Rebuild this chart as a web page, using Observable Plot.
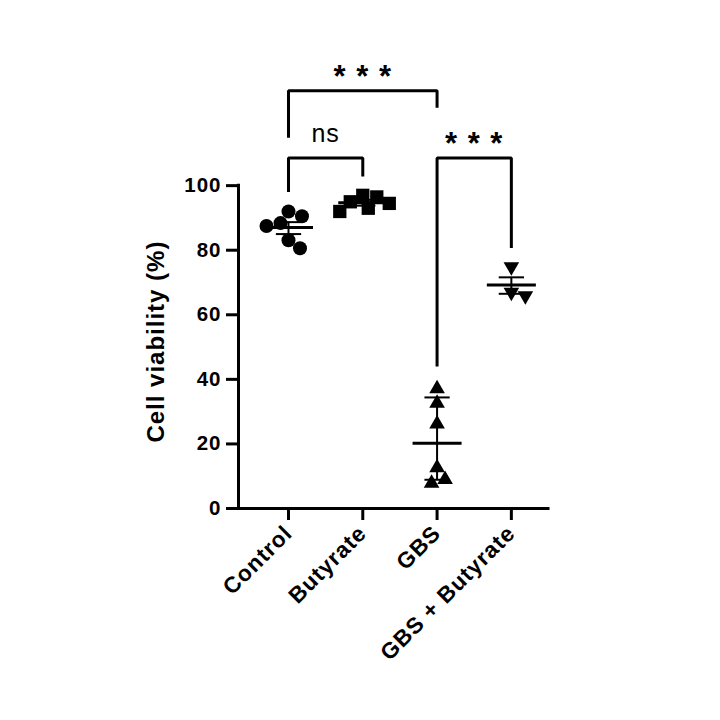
<!DOCTYPE html>
<html><head><meta charset="utf-8">
<script src="https://cdn.jsdelivr.net/npm/d3@7"></script>
<script src="https://cdn.jsdelivr.net/npm/@observablehq/plot@0.6"></script>
<style>
body{margin:0;background:#fff;}
#chart svg{font-family:"Liberation Sans",Arial,sans-serif;background:#fff;}
#chart svg text{letter-spacing:1px;}
</style></head><body><div id="chart"></div>
<script>
// ---- data ----
const categories = ["Control", "Butyrate", "GBS", "GBS + Butyrate"];
const controlValues = [88.4, 90.5, 92.0, 87.5, 83.1, 80.6];
const butyrateValues = [94.5, 95.0, 96.5, 97.0, 92.0, 93.0];
const gbsValues = [37.1, 32.6, 26.2, 12.6, 7.8, 9.0];
const gbsButyrateValues = [74.9, 65.9, 67.0];
const means = [87.0, 94.7, 20.2, 69.2];
const errLow = [85.0, 93.8, 8.9, 66.5];
const errHigh = [88.7, 95.6, 34.4, 71.6];
const yTicks = [0, 20, 40, 60, 80, 100];
const yLabel = "Cell viability (%)";
// significance comparisons (group indices, bracket heights in % units)
const compFrom = [0, 0, 2];
const compTo = [2, 1, 3];
const compTop = [129.4, 108.6, 108.6];
const compLegFrom = [114.8, 98.0, 44.0];
const compLegTo = [124.1, 102.8, 80.7];
const compLabel = ["***", "ns", "***"];

// ---- layout ----
const W = 720, H = 720;
const mL = 238, mR = 172, mT = 56, mB = 212;
const xMin = -0.673, xMax = 3.5, yMax = 140;
const pxX = (W - mL - mR) / (xMax - xMin);
const pxY = (H - mT - mB) / yMax;

function swarm(values, gi, diam) {
  const order = values.map((v, k) => k).sort((a, b) => values[b] - values[a]);
  const placed = [];
  const out = new Array(values.length);
  for (const k of order) {
    const py = values[k] * pxY;
    let best = null;
    for (let s = 0; s < 200 && best === null; s += 0.5) {
      for (const c of (s === 0 ? [0] : [s, -s])) {
        if (placed.every(p => (p.x - c) ** 2 + (p.y - py) ** 2 >= diam * diam)) { best = c; break; }
      }
    }
    placed.push({x: best, y: py});
    out[k] = best;
  }
  return values.map((v, k) => ({g: gi, x: gi + out[k] / pxX, y: v}));
}

const series = [controlValues, butyrateValues, gbsValues, gbsButyrateValues];
const pts = series.map((vals, gi) => swarm(vals, gi, 14));

const groups = categories.map((c, i) => ({i, mean: means[i], lo: errLow[i], hi: errHigh[i]}));

const bracketPts = [];
const bracketLabels = [];
compFrom.forEach((a, k) => {
  const b = compTo[k];
  bracketPts.push({k, x: a, y: compLegFrom[k]}, {k, x: a, y: compTop[k]}, {k, x: b, y: compTop[k]}, {k, x: b, y: compLegTo[k]});
  bracketLabels.push({x: (a + b) / 2, y: compTop[k], label: compLabel[k]});
});

const triangleDown = {
  draw(context, size) {
    const y = -Math.sqrt(size / (Math.sqrt(3) * 3));
    context.moveTo(0, -y * 2);
    context.lineTo(-Math.sqrt(3) * y, y);
    context.lineTo(Math.sqrt(3) * y, y);
    context.closePath();
  }
};

const chart = Plot.plot({
  width: W, height: H,
  marginLeft: mL, marginRight: mR, marginTop: mT, marginBottom: mB,
  x: {type: "linear", domain: [xMin, xMax]},
  y: {type: "linear", domain: [0, yMax]},
  marks: [
    Plot.axisY({ticks: yTicks, tickSize: 12, tickPadding: 5, strokeWidth: 3, fontSize: 20.5, fontWeight: "bold", label: null}),
    Plot.axisX({ticks: [0, 1, 2, 3], tickFormat: i => categories[i], tickRotate: -45, tickSize: 12, tickPadding: 9, strokeWidth: 3, fontSize: 22.5, fontWeight: "bold", label: null}),
    Plot.ruleX([xMin], {x: d => d, y1: 0, y2: 100, strokeWidth: 3, strokeLinecap: "square"}),
    Plot.ruleY([0], {y: d => d, x1: xMin, x2: xMax, strokeWidth: 3, strokeLinecap: "square"}),
    Plot.text([yLabel], {x: () => xMin, y: () => 51.7, dx: -82, rotate: -90, text: d => d, fontSize: 24, fontWeight: "bold", fill: "black"}),
    // error bars
    Plot.ruleX(groups, {x: "i", y1: "lo", y2: "hi", strokeWidth: 2}),
    Plot.link(groups, {x1: d => d.i - 0.17, x2: d => d.i + 0.17, y1: "hi", y2: "hi", strokeWidth: 2}),
    Plot.link(groups, {x1: d => d.i - 0.17, x2: d => d.i + 0.17, y1: "lo", y2: "lo", strokeWidth: 2}),
    Plot.link(groups, {x1: d => d.i - 0.33, x2: d => d.i + 0.33, y1: "mean", y2: "mean", strokeWidth: 3}),
    // points
    Plot.dot(pts[0], {x: "x", y: "y", r: 7, symbol: "circle", fill: "black", stroke: "none"}),
    Plot.dot(pts[1], {x: "x", y: "y", r: 7.5, symbol: "square", fill: "black", stroke: "none"}),
    Plot.dot(pts[2], {x: "x", y: "y", r: 5.8, symbol: "triangle", fill: "black", stroke: "none"}),
    Plot.dot(pts[3], {x: "x", y: "y", r: 5.8, symbol: triangleDown, fill: "black", stroke: "none"}),
    // significance brackets
    Plot.line(bracketPts, {x: "x", y: "y", z: "k", strokeWidth: 3, strokeLinejoin: "miter", strokeLinecap: "butt", stroke: "black"}),
    Plot.text(bracketLabels.filter(d => d.label !== "ns"), {x: "x", y: "y", text: d => d.label.split("").join(" "), fontSize: 31, fontWeight: "bold", dy: -14, fill: "black"}),
    Plot.text(bracketLabels.filter(d => d.label === "ns"), {x: "x", y: "y", text: "label", fontSize: 25, dy: -24, fill: "black"})
  ]
});
document.getElementById("chart").appendChild(chart);
</script>
</body></html>
